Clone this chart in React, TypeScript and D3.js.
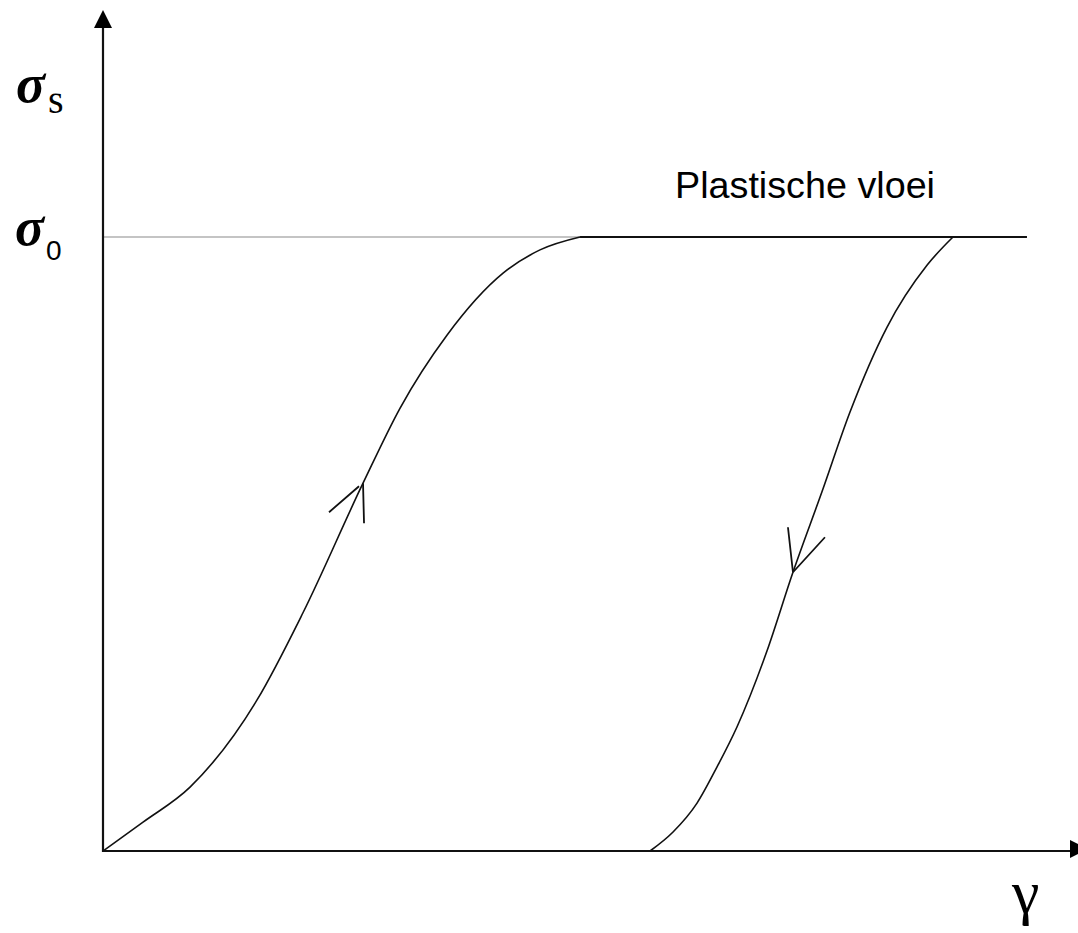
import React from "react";
import * as d3 from "d3";

// Loading curve (γ, σ/σ0)
const loadGamma = [0, 0.414, 0.9, 1.593, 2.068, 2.689, 3.071, 3.557, 4.137, 4.519, 4.933];
const loadSigma = [0, 0.047, 0.104, 0.246, 0.388, 0.599, 0.721, 0.84, 0.941, 0.979, 1.0];
// Unloading curve
const unloadGamma = [5.657, 5.895, 6.143, 6.35, 6.556, 6.867, 7.135, 7.435, 7.725, 8.107, 8.521, 8.79];
const unloadSigma = [0, 0.031, 0.078, 0.137, 0.202, 0.326, 0.454, 0.585, 0.715, 0.853, 0.954, 1.0];
// Plastic flow plateau
const plateauStart = 4.933;
const plateauEnd = 9.555;
const sigma0 = 1.0;
// Direction arrows (at curve points)
const arrowUp = { gamma: 2.689, sigma: 0.599 };
const arrowDown = { gamma: 7.135, sigma: 0.454 };
const axisMaxGamma = 10;
const axisMaxSigma = 1.342;
const plateauLabel = "Plastische vloei";

export default function App() {
  const W = 1078, H = 933;
  const x = d3.scaleLinear().domain([0, 10]).range([103, 1070]);
  const y = d3.scaleLinear().domain([0, 1]).range([851, 237]);
  const line = d3.line<[number, number]>().x(d => x(d[0])).y(d => y(d[1])).curve(d3.curveMonotoneX);
  const loadPts = loadGamma.map((g, i) => [g, loadSigma[i]] as [number, number]);
  const unloadPts = unloadGamma.map((g, i) => [g, unloadSigma[i]] as [number, number]);
  const x0 = x(0), y0 = y(0);
  const yTop = y(axisMaxSigma), xRight = x(axisMaxGamma);
  const a1x = x(arrowUp.gamma), a1y = y(arrowUp.sigma);
  const a2x = x(arrowDown.gamma), a2y = y(arrowDown.sigma);
  const stroke = "#111";
  return (
    <svg width={W} height={H} style={{ position: "absolute", left: 0, top: 0, background: "#fff" }}>
      {/* gray reference line at sigma0 */}
      <line x1={x0} x2={x(plateauStart)} y1={y(sigma0)} y2={y(sigma0)} stroke="#c4c4c4" strokeWidth={2} />
      {/* plateau */}
      <line x1={x(plateauStart)} x2={x(plateauEnd)} y1={y(sigma0)} y2={y(sigma0)} stroke={stroke} strokeWidth={2} />
      {/* axes */}
      <line x1={x0} x2={x0} y1={y0 + 1} y2={yTop} stroke={stroke} strokeWidth={2.2} />
      <line x1={x0} x2={xRight} y1={y0} y2={y0} stroke={stroke} strokeWidth={2.2} />
      <path d={`M${x0},${yTop - 17} L${x0 - 9},${yTop + 1} L${x0 + 9},${yTop + 1} Z`} fill="#000" />
      <path d={`M${xRight + 18},${y0 - 2} L${xRight},${y0 - 11} L${xRight},${y0 + 7} Z`} fill="#000" />
      {/* curves */}
      <path d={line(loadPts) || ""} fill="none" stroke={stroke} strokeWidth={1.6} />
      <path d={line(unloadPts) || ""} fill="none" stroke={stroke} strokeWidth={1.6} />
      {/* arrow markers */}
      <path d={`M${a1x},${a1y} L${a1x + 1},${a1y + 40} M${a1x - 4},${a1y + 3} L${a1x - 34},${a1y + 29}`} fill="none" stroke={stroke} strokeWidth={1.8} />
      <path d={`M${a2x},${a2y} L${a2x - 5},${a2y - 45} M${a2x},${a2y} L${a2x + 32},${a2y - 35}`} fill="none" stroke={stroke} strokeWidth={1.8} />
      {/* labels */}
      <text x={16} y={102} fontFamily="Liberation Serif" fontWeight="bold" fontStyle="italic" fontSize={54} fill="#000">σ</text>
      <text x={48} y={113} fontFamily="Liberation Serif" fontSize={40} fill="#000">s</text>
      <text x={15} y={245} fontFamily="Liberation Serif" fontWeight="bold" fontStyle="italic" fontSize={54} fill="#000">σ</text>
      <text x={46} y={260} fontFamily="Liberation Sans" fontSize={28} fill="#000">0</text>
      <text x={1012} y={913} fontFamily="Liberation Serif" fontSize={62} fill="#000">γ</text>
      <text x={675} y={198} fontFamily="Liberation Sans" fontSize={36} textLength={260} lengthAdjust="spacingAndGlyphs" fill="#000">{plateauLabel}</text>
    </svg>
  );
}
